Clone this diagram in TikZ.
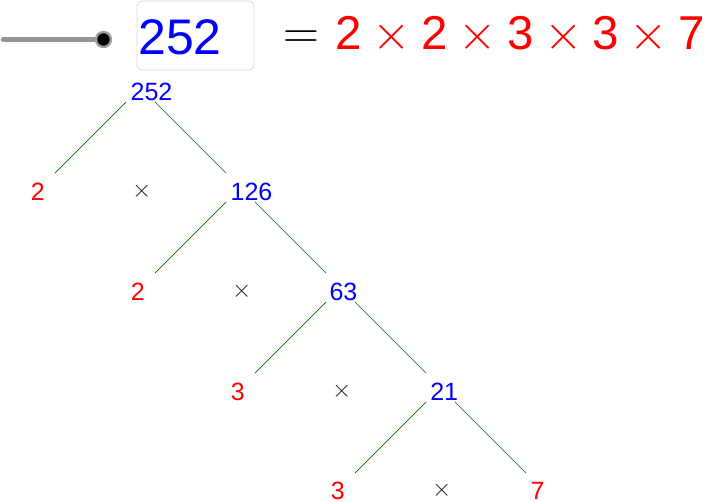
\documentclass[tikz,border=0pt]{standalone}
\usepackage{graphicx}
\usepackage{fontspec}
\setmainfont{Liberation Sans}
\definecolor{edgegreen}{RGB}{0,105,0}
\definecolor{slidergray}{RGB}{150,150,150}
\definecolor{boxgray}{RGB}{215,215,215}
\definecolor{ggblue}{RGB}{0,0,255}
\definecolor{ggred}{RGB}{255,0,0}
\newcommand{\bigeq}{\scalebox{2}{\fontsize{24}{28}\selectfont$=$}}
\newcommand{\bigtimes}{\scalebox{1.98}{\fontsize{24}{28}\selectfont$\times$}}
\newcommand{\smalltimes}{{\fontsize{23}{27}\selectfont$\times$}}
\tikzset{
  lbl/.style={inner sep=0pt, anchor=base, font=\fontsize{25}{30}\selectfont},
  comp/.style={lbl, text=ggblue},
  prime/.style={lbl, text=ggred},
  timesmark/.style={inner sep=0pt, anchor=base, text=black!85},
  edge/.style={draw=edgegreen, line width=0.7pt},
}
\begin{document}
\begin{tikzpicture}[x=1pt,y=-1pt]
\useasboundingbox (0,0) rectangle (711,501);
% slider
\coordinate (sl0) at (3,39.5);
\coordinate (sl1) at (103.5,39.5);
\draw[slidergray, line width=4.5pt, line cap=round] (sl0) -- (sl1);
\fill[gray!75] (sl1) circle (8.7);
\fill[black] (sl1) circle (6.2);
% input box
\node[draw=boxgray, line width=0.8pt, rounded corners=5pt, minimum width=117pt, minimum height=69pt, inner sep=0pt] (box) at (195.5,35.5) {};
\node[inner sep=0pt, anchor=base west, text=ggblue, font=\fontsize{50}{60}\selectfont] (inval) at (138,54) {252};
% equation
\node[inner sep=0pt, anchor=base] (eq) at (301.5,48) {\bigeq};
\node[inner sep=0pt, anchor=base west, text=ggred, font=\fontsize{47.5}{57}\selectfont] (prod) at (335.5,49.5)
  {2\hspace{10.5pt}\bigtimes\hspace{10.5pt}2\hspace{10.5pt}\bigtimes\hspace{10.5pt}3\hspace{10.5pt}\bigtimes\hspace{10.5pt}3\hspace{10.5pt}\bigtimes\hspace{10.5pt}7};
% tree labels
\node[comp] (n252) at (151.5,100) {252};
\node[prime] (p1) at (37.8,200) {2};
\node[timesmark] (t1) at (141.7,197.5) {\smalltimes};
\node[comp] (n126) at (251.5,200) {126};
\node[prime] (p2) at (137.8,300) {2};
\node[timesmark] (t2) at (241.7,297.5) {\smalltimes};
\node[comp] (n63) at (343.4,300) {63};
\node[prime] (p3) at (237.8,400) {3};
\node[timesmark] (t3) at (341.7,397.5) {\smalltimes};
\node[comp] (n21) at (444.2,400) {21};
\node[prime] (p4) at (337.8,499) {3};
\node[timesmark] (t4) at (441.7,496.5) {\smalltimes};
\node[prime] (p5) at (537.5,499) {7};
% connector end points
\foreach \k in {0,1,2,3}{
  \coordinate (la\k) at (126+100*\k,102+100*\k);
  \coordinate (lb\k) at (55+100*\k,173+100*\k);
  \coordinate (ra\k) at (155+100*\k,102+100*\k);
  \coordinate (rb\k) at (226+100*\k,173+100*\k);
}
\foreach \k in {0,1,2,3}{
  \draw[edge] (la\k) -- (lb\k);
  \draw[edge] (ra\k) -- (rb\k);
}
\end{tikzpicture}
\end{document}
